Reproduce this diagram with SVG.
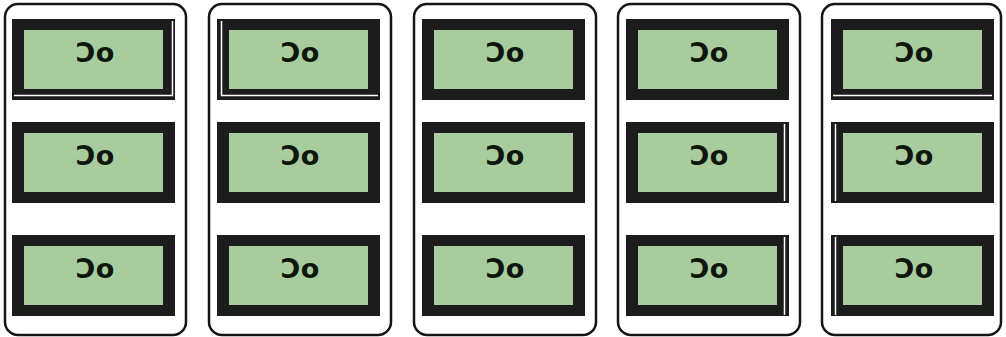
<svg xmlns="http://www.w3.org/2000/svg" width="1006" height="337" viewBox="0 0 1006 337">
<style>
.panel{fill:#fff;stroke:#151515;stroke-width:2.5}
.frame{fill:#1c1c1c}
.lcd{fill:#a8cc9e}
.hl{fill:none;stroke:#fff;stroke-width:1.5}
.val{font-family:"DejaVu Sans",sans-serif;font-weight:bold;font-size:27px;fill:#0e160e;text-anchor:middle}
</style>
<defs>
<g id="lcd">
<rect class="frame" x="0" y="0" width="163" height="81"/>
<rect class="lcd" x="12" y="11" width="139" height="59"/>
<text class="val" x="83" y="43">Ɔo</text>
</g>
</defs>
<g id="panel1">
<rect class="panel" x="5" y="4" width="181" height="331" rx="13"/>
<g id="p1a"><use href="#lcd" x="12" y="19"/><path class="hl" d="M14 95.5H172.5V21"/></g>
<g id="p1b"><use href="#lcd" x="12" y="122"/></g>
<g id="p1c"><use href="#lcd" x="12" y="235"/></g>
</g>
<g id="panel2">
<rect class="panel" x="209" y="4" width="182" height="331" rx="13"/>
<g id="p2a"><use href="#lcd" x="217" y="19"/><path class="hl" d="M221.5 21V95.5H378"/></g>
<g id="p2b"><use href="#lcd" x="217" y="122"/></g>
<g id="p2c"><use href="#lcd" x="217" y="235"/></g>
</g>
<g id="panel3">
<rect class="panel" x="414" y="4" width="182" height="331" rx="13"/>
<g id="p3a"><use href="#lcd" x="422" y="19"/></g>
<g id="p3b"><use href="#lcd" x="422" y="122"/></g>
<g id="p3c"><use href="#lcd" x="422" y="235"/></g>
</g>
<g id="panel4">
<rect class="panel" x="618" y="4" width="182" height="331" rx="13"/>
<g id="p4a"><use href="#lcd" x="626" y="19"/></g>
<g id="p4b"><use href="#lcd" x="626" y="122"/><path class="hl" d="M784.5 124V201"/></g>
<g id="p4c"><use href="#lcd" x="626" y="235"/><path class="hl" d="M784.5 237V315"/></g>
</g>
<g id="panel5">
<rect class="panel" x="822" y="4" width="179" height="331" rx="13"/>
<g id="p5a"><use href="#lcd" x="831" y="19"/><path class="hl" d="M833 95.5H992"/></g>
<g id="p5b"><use href="#lcd" x="831" y="122"/><path class="hl" d="M835.5 124V201"/></g>
<g id="p5c"><use href="#lcd" x="831" y="235"/><path class="hl" d="M835.5 237V315"/></g>
</g>
</svg>
